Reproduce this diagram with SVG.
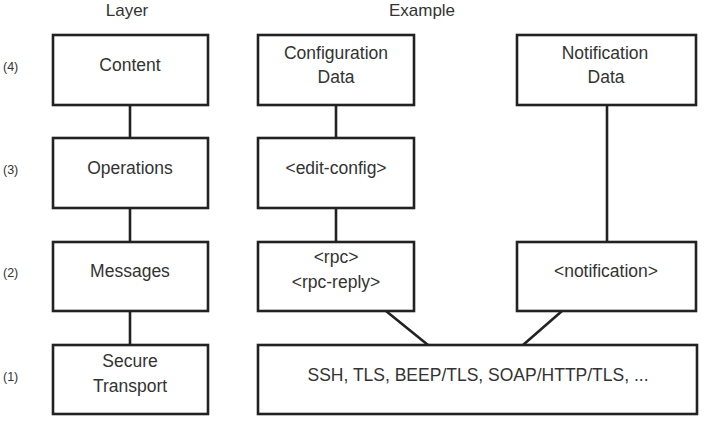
<svg xmlns="http://www.w3.org/2000/svg" width="704" height="426" viewBox="0 0 704 426">
<style>
.box{fill:#fff;stroke:#222;stroke-width:2.6}
.ln{stroke:#222;stroke-width:2.6;fill:none}
text{font-family:"Liberation Sans",Arial,sans-serif;fill:#333;text-anchor:middle}
.t{font-size:17.5px}
.h{font-size:17px}
.lv{font-size:12.5px;text-anchor:start}
</style>
<rect width="704" height="426" fill="#fff"/>
<g id="headers">
<text class="h" x="127" y="16">Layer</text>
<text class="h" x="422" y="16">Example</text>
</g>
<g id="levels">
<text class="lv" x="3" y="71">(4)</text>
<text class="lv" x="3" y="174">(3)</text>
<text class="lv" x="3" y="277">(2)</text>
<text class="lv" x="3" y="381">(1)</text>
</g>
<g id="connectors">
<line class="ln" x1="130" y1="105" x2="130" y2="138"/>
<line class="ln" x1="130" y1="208" x2="130" y2="242"/>
<line class="ln" x1="130" y1="311" x2="130" y2="345"/>
<line class="ln" x1="336" y1="105" x2="336" y2="138"/>
<line class="ln" x1="336" y1="208" x2="336" y2="242"/>
<line class="ln" x1="607" y1="105" x2="607" y2="242"/>
<line class="ln" x1="386" y1="311" x2="428" y2="345"/>
<line class="ln" x1="562" y1="311" x2="523" y2="345"/>
</g>
<g id="content">
<rect class="box" x="53" y="35" width="155" height="70"/>
<text class="t" x="130" y="70.5">Content</text>
</g>
<g id="operations">
<rect class="box" x="53" y="138" width="155" height="70"/>
<text class="t" x="130" y="173.5">Operations</text>
</g>
<g id="messages">
<rect class="box" x="53" y="242" width="155" height="69"/>
<text class="t" x="130" y="277">Messages</text>
</g>
<g id="secure-transport">
<rect class="box" x="53" y="345" width="155" height="69"/>
<text class="t" x="130" y="367">Secure</text>
<text class="t" x="130" y="392">Transport</text>
</g>
<g id="configuration-data">
<rect class="box" x="258" y="35" width="156" height="70"/>
<text class="t" x="336" y="58.5">Configuration</text>
<text class="t" x="336" y="83">Data</text>
</g>
<g id="edit-config">
<rect class="box" x="258" y="138" width="156" height="70"/>
<text class="t" x="336" y="173.5">&lt;edit-config&gt;</text>
</g>
<g id="rpc">
<rect class="box" x="258" y="242" width="156" height="69"/>
<text class="t" x="336" y="263">&lt;rpc&gt;</text>
<text class="t" x="336" y="288">&lt;rpc-reply&gt;</text>
</g>
<g id="notification-data">
<rect class="box" x="517" y="35" width="179" height="70"/>
<text class="t" x="605" y="58.5">Notification</text>
<text class="t" x="606" y="83">Data</text>
</g>
<g id="notification">
<rect class="box" x="517" y="242" width="179" height="69"/>
<text class="t" x="606" y="277">&lt;notification&gt;</text>
</g>
<g id="transports">
<rect class="box" x="258" y="345" width="439" height="69"/>
<text class="t" x="478" y="381">SSH, TLS, BEEP/TLS, SOAP/HTTP/TLS, ...</text>
</g>
</svg>
